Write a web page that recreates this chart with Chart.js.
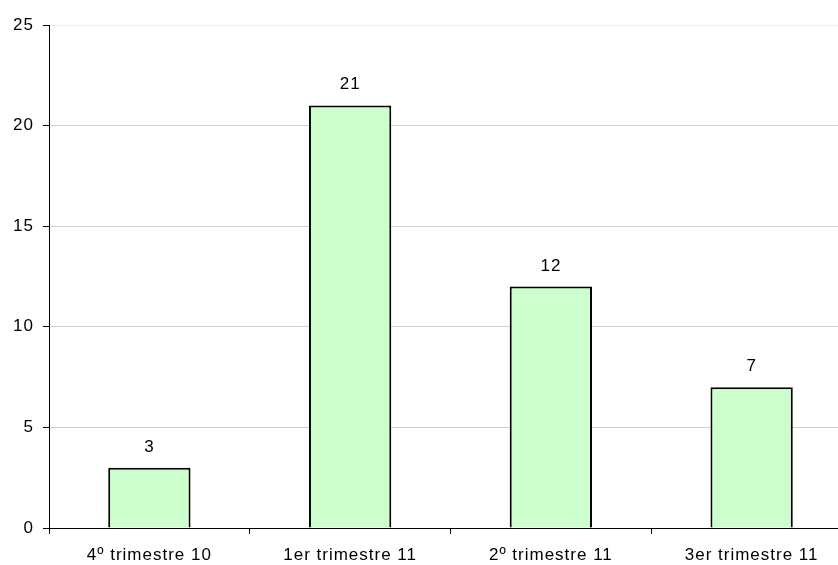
<!DOCTYPE html>
<html>
<head>
<meta charset="utf-8">
<script src="https://cdn.jsdelivr.net/npm/chart.js@4"></script>
<style>
    html, body { margin: 0; padding: 0; background: #fff; overflow: hidden; }
    #wrap { position: relative; width: 838px; height: 565px; overflow: hidden; }
    #chart { position: absolute; left: 0; top: 0; }
</style>
</head>
<body>
<div id="wrap">
    <canvas id="chart" width="858" height="565"></canvas>
</div>
<script>
const categories = ['4º trimestre 10', '1er trimestre 11', '2º trimestre 11', '3er trimestre 11'];
const values = [3, 21, 12, 7];
const yTicks = [0, 5, 10, 15, 20, 25];

const FONT = '"Liberation Sans", Arial, sans-serif';

// the original text is a bit wider than plain Arial, so space the letters out
const spacing = {
    id: 'spacing',
    beforeUpdate(chart) { chart.ctx.letterSpacing = '1px'; },
    beforeDraw(chart) { chart.ctx.letterSpacing = '1px'; }
};

// draws the value above each bar
const valueLabels = {
    id: 'valueLabels',
    afterDatasetsDraw(chart) {
        const ctx = chart.ctx;
        const meta = chart.getDatasetMeta(0);
        ctx.save();
        ctx.font = '17px ' + FONT;
        ctx.fillStyle = '#000';
        ctx.textAlign = 'center';
        ctx.textBaseline = 'alphabetic';
        meta.data.forEach((bar, i) => {
            ctx.fillText(String(values[i]), bar.x, bar.y - 16);
        });
        ctx.restore();
    }
};

new Chart(document.getElementById('chart').getContext('2d'), {
    type: 'bar',
    data: {
        labels: categories,
        datasets: [{
            data: values,
            backgroundColor: '#ccffcc',
            borderColor: '#000',
            borderWidth: 2,
            barPercentage: 0.41,
            categoryPercentage: 1
        }]
    },
    options: {
        responsive: false,
        animation: false,
        layout: { padding: { top: 25, right: 6, left: 0, bottom: 0 } },
        plugins: {
            legend: { display: false },
            tooltip: { enabled: false }
        },
        scales: {
            x: {
                grid: {
                    offset: true,
                    drawOnChartArea: false,
                    tickLength: 6,
                    tickColor: '#000'
                },
                border: { color: '#000', width: 1 },
                ticks: {
                    color: '#000',
                    padding: 11,
                    maxRotation: 0,
                    font: { family: FONT, size: 17 }
                },
                afterFit: (scale) => { scale.height = 37; }
            },
            y: {
                min: 0,
                max: 25,
                afterBuildTicks: (scale) => { scale.ticks = yTicks.map(v => ({ value: v })); },
                grid: {
                    color: (c) => c.tick && c.tick.value === 25 ? '#eeeeee' : '#d0d0d0',
                    tickLength: 6,
                    tickColor: '#000'
                },
                border: { color: '#000', width: 1 },
                ticks: {
                    color: '#000',
                    padding: 9,
                    font: { family: FONT, size: 17 }
                },
                afterFit: (scale) => { scale.width = 49; }
            }
        }
    },
    plugins: [spacing, valueLabels]
});
</script>
</body>
</html>
